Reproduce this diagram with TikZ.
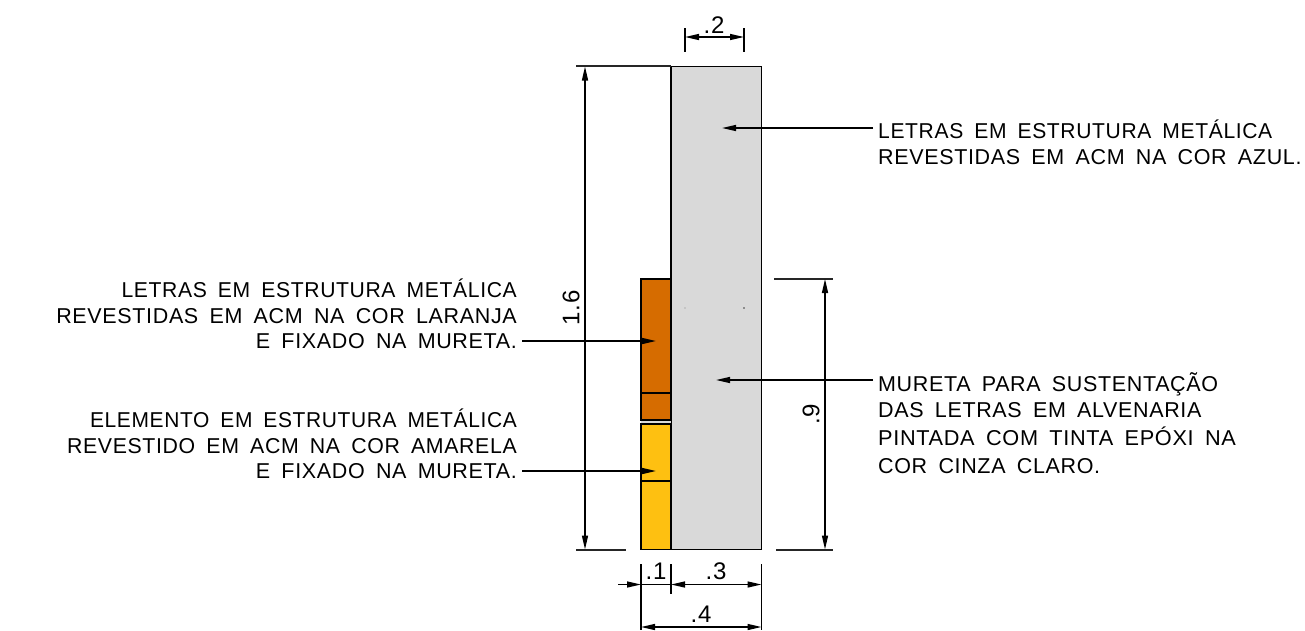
\documentclass[tikz,border=0pt]{standalone}
\usepackage{fontspec}
\setmainfont[LetterSpace=3,WordSpace=1.7]{Liberation Sans}
\usetikzlibrary{arrows.meta}
\definecolor{wallgray}{RGB}{217,217,217}
\definecolor{orangeacm}{RGB}{214,108,0}
\definecolor{yellowacm}{RGB}{254,192,17}
\newcommand{\hfit}[2]{\scalebox{#1}[1]{#2}}
\tikzset{
  panel/.style={draw=black,line width=1.7pt,rectangle,inner sep=0pt,outer sep=0pt},
  dimline/.style={draw=black,line width=1.4pt},
  extline/.style={draw=black!85,line width=1.9pt},
  tick/.style={draw=black,line width=1.9pt},
  head/.style={-{Stealth[length=14pt,width=6pt,inset=0pt]}},
  heads/.style={{Stealth[length=14pt,width=6pt,inset=0pt]}-{Stealth[length=14pt,width=6pt,inset=0pt]}},
  lab/.style={font=\fontsize{21.5}{25.5}\selectfont,inner sep=0pt,text=black},
  dimlab/.style={font=\fontsize{24}{25}\selectfont,inner sep=0pt,text=black},
  leader/.style={draw=black,line width=1.4pt,head},
}
\begin{document}
\begin{tikzpicture}[x=1pt,y=-1pt]
\useasboundingbox (0,0) rectangle (1305,630);
% panels
\node[panel,fill=wallgray,minimum width=90.5pt,minimum height=483pt,anchor=north west] (wall) at (671,66.5) {};
\node[panel,fill=wallgray,draw=none,minimum width=30pt,minimum height=5pt,anchor=north west] (gap) at (641,420) {};
\node[panel,fill=orangeacm,minimum width=30pt,minimum height=141pt,anchor=north west] (orange) at (641,279) {};
\node[panel,fill=yellowacm,minimum width=30pt,minimum height=125.5pt,anchor=north west] (yellow) at (641,424) {};
\coordinate (ol) at (641,393); \coordinate (or) at (671,393);
\coordinate (yl) at (641,481); \coordinate (yr) at (671,481);
\draw[panel] (ol) -- (or);
\draw[panel] (yl) -- (yr);
\fill[black!75] (744,308) circle (0.8pt);
\fill[black!30] (685,308) circle (0.8pt);
% top dimension
\coordinate (t1a) at (685,28); \coordinate (t1b) at (685,52);
\coordinate (t2a) at (744,28); \coordinate (t2b) at (744,52);
\coordinate (t1m) at (685,37); \coordinate (t2m) at (744,37);
\draw[tick] (t1a) -- (t1b);
\draw[tick] (t2a) -- (t2b);
\draw[dimline,heads] (t1m) -- (t2m);
\coordinate (te1) at (685,66.5); \coordinate (te2) at (744,66.5);
\draw[tick] (te1) -- (te2);
\node[dimlab] (d2) at (714,25) {.2};
% left height dimension
\coordinate (la) at (576,66.2); \coordinate (lb) at (671,66.2);
\coordinate (lc) at (576,549.8); \coordinate (ld) at (626,549.8);
\coordinate (lt) at (585,66.5); \coordinate (lu) at (585,549.5);
\draw[extline] (la) -- (lb);
\draw[extline] (lc) -- (ld);
\draw[dimline,heads] (lt) -- (lu);
\node[dimlab,rotate=90] (d16) at (571,308) {1.6};
% right height dimension
\coordinate (ra) at (774,279); \coordinate (rb) at (833,279);
\coordinate (rc) at (776,549.8); \coordinate (rd) at (833,549.8);
\coordinate (rt) at (825,279); \coordinate (ru) at (825,549.5);
\draw[extline] (ra) -- (rb);
\draw[extline] (rc) -- (rd);
\draw[dimline,heads] (rt) -- (ru);
\node[dimlab,rotate=90] (d9) at (811,414) {.9};
% bottom dimensions
\coordinate (b1a) at (641,564); \coordinate (b1b) at (641,630);
\coordinate (b2a) at (671,564); \coordinate (b2b) at (671,594);
\coordinate (b3a) at (761.5,564); \coordinate (b3b) at (761.5,630);
\draw[tick] (b1a) -- (b1b);
\draw[tick] (b2a) -- (b2b);
\draw[tick] (b3a) -- (b3b);
\coordinate (b0) at (618,584.5); \coordinate (b1) at (641,584.5);
\coordinate (b2) at (671,584.5); \coordinate (b3) at (761.5,584.5);
\draw[dimline,head] (b0) -- (b1);
\draw[dimline] (b1) -- (b2);
\draw[dimline,heads] (b2) -- (b3);
\coordinate (c1) at (641,627); \coordinate (c2) at (761.5,627);
\draw[dimline,heads] (c1) -- (c2);
\node[dimlab] (d1) at (656,571) {.1};
\node[dimlab] (d3) at (716,571) {.3};
\node[dimlab] (d4) at (701,614) {.4};
% labels
\node[lab,align=left,anchor=base west] (azul) at (878,164) {\hfit{0.98}{LETRAS EM ESTRUTURA METÁLICA}\\REVESTIDAS EM ACM NA COR AZUL.};
\node[lab,align=left,anchor=base west] (mureta) at (878,473) {MURETA PARA SUSTENTAÇÃO\\DAS LETRAS EM ALVENARIA\\[2.5pt]\hfit{1.011}{PINTADA COM TINTA EPÓXI NA}\\[2.5pt]COR CINZA CLARO.};
\node[lab,align=right,anchor=base east] (laranja) at (517,348.5) {\hfit{0.983}{LETRAS EM ESTRUTURA METÁLICA}\\REVESTIDAS EM ACM NA COR LARANJA\\E FIXADO NA MURETA.};
\node[lab,align=right,anchor=base east] (amarela) at (517,478.5) {\hfit{0.975}{ELEMENTO EM ESTRUTURA METÁLICA}\\\hfit{0.991}{REVESTIDO EM ACM NA COR AMARELA}\\E FIXADO NA MURETA.};
% leaders
\coordinate (lazs) at (873,128); \coordinate (laze) at (722,128);
\coordinate (lmus) at (873,380); \coordinate (lmue) at (716,380);
\coordinate (lors) at (522,341); \coordinate (lore) at (656,341);
\coordinate (lyes) at (522,471); \coordinate (lyee) at (656,471);
\draw[leader] (lazs) -- (laze);
\draw[leader] (lmus) -- (lmue);
\draw[leader] (lors) -- (lore);
\draw[leader] (lyes) -- (lyee);
\end{tikzpicture}
\end{document}
